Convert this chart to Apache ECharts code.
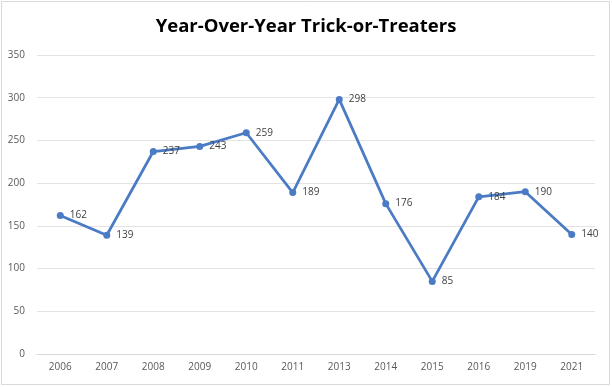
<!DOCTYPE html>
<html><head><meta charset="utf-8">
<script src="https://cdn.jsdelivr.net/npm/echarts@6/dist/echarts.min.js"></script>
<style>html,body{margin:0;padding:0;background:#fff}#c{width:612px;height:387px}</style>
</head><body><div id="c"></div>
<script>
const categories = ['2006','2007','2008','2009','2010','2011','2013','2014','2015','2016','2019','2021'];
const values = [162,139,237,243,259,189,298,176,85,184,190,140];
const yTicks = {min:0, max:350, interval:50};
const titleText = 'Year-Over-Year Trick-or-Treaters';

const chart = echarts.init(document.getElementById('c'), null, {renderer:'canvas'});
chart.setOption({
  animation:false,
  backgroundColor:'#fff',
  graphic:[{type:'rect',shape:{x:1.5,y:1.5,width:608,height:383},style:{fill:'none',stroke:'#d9d9d9',lineWidth:1}}],
  title:{text:titleText,left:'center',top:12,textStyle:{fontFamily:'Open Sans',fontWeight:'bold',fontSize:18.5,color:'#000'}},
  grid:{left:37,right:17,top:55,bottom:33},
  xAxis:{type:'category',data:categories,boundaryGap:true,
    axisLine:{show:true,lineStyle:{color:'#d9d9d9'}},axisTick:{show:false},
    axisLabel:{color:'#595959',fontFamily:'Open Sans',fontSize:10,margin:8}},
  yAxis:{type:'value',min:yTicks.min,max:yTicks.max,interval:yTicks.interval,
    axisLine:{show:false},axisTick:{show:false},
    splitLine:{lineStyle:{color:'#e3e3e3'}},
    axisLabel:{color:'#595959',fontFamily:'Open Sans',fontSize:10,margin:12}},
  series:[{type:'line',data:values,symbol:'circle',symbolSize:7,
    lineStyle:{color:'#4a7bc4',width:2.75},itemStyle:{color:'#4a7bc4'},
    label:{show:true,position:'right',distance:6,color:'#404040',fontFamily:'Open Sans',fontSize:10}}]
});
</script></body></html>
